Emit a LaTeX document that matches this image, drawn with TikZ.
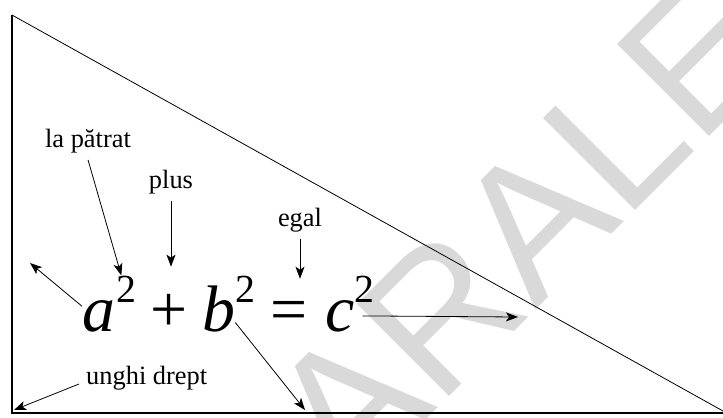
\documentclass[tikz,border=0pt]{standalone}
\usepackage{fontspec}
\setmainfont{Liberation Serif}
\newfontfamily\wmfont{Liberation Sans}
\usetikzlibrary{arrows.meta,positioning}

\begin{document}
\begin{tikzpicture}[x=1bp,y=-1bp,
  lbl/.style={inner sep=7bp,font=\fontsize{26.5}{30}\selectfont},
  sym/.style={inner sep=0pt,anchor=base west,font=\fontsize{66}{70}\selectfont},
  sup/.style={inner sep=0pt,anchor=base west,font=\fontsize{40}{44}\selectfont},
  arr/.style={-{Stealth[length=12bp,width=9bp,inset=3bp]},line width=0.8bp}]
\useasboundingbox (0,0) rectangle (723,417);
% watermark
\begin{scope}
\clip (0,0) rectangle (723,417);
\node[rotate=45,anchor=base west,inner sep=0pt,text=black!15,
  font=\wmfont\fontsize{190}{200}\selectfont] (wm) at (349,497) {ARALE};
\end{scope}
% triangle
\draw[line width=0.8bp] (12,15) -- (723,411);
\draw[line width=1.5bp] (12,15) -- (12,413) -- (723,413);
% equation
\node[sym] (a) at (82,331) {\itshape a};
\node[sup] (a2) at (116,302) {2};
\node[sym] (pl) at (150,331) {+};
\node[sym] (b) at (202,331) {\itshape b};
\node[sup] (b2) at (235,302) {2};
\node[sym] (eq) at (270,331) {=};
\node[sym] (c) at (325,331) {\itshape c};
\node[sup] (c2) at (354,302) {2};
% labels
\node[lbl,anchor=base] (lapat) at (88,147) {la pătrat};
\node[lbl,anchor=base] (plus) at (171,188) {plus};
\node[lbl,anchor=base] (egal) at (300,226) {egal};
\node[lbl,anchor=base west] (unghi) at (79,384) {unghi drept};
\coordinate (legA) at (30,263);
\coordinate (legB) at (305,410);
\coordinate (hyp) at (518,317);
\coordinate (corner) at (14,410);
% arrows
\draw[arr] (lapat.south) -- (a2.110);
\draw[arr,shorten >=27bp] (plus.south) -- (plus.south |- pl.north);
\draw[arr,shorten >=22bp] (egal.south) -- (egal.south |- eq.north);
\draw[arr] (a.150) -- (legA);
\draw[arr] (b.-40) -- (legB);
\draw[arr,shorten <=8bp] (c.east) -- (hyp);
\draw[arr] (unghi.base west) -- (corner);
\end{tikzpicture}
\end{document}
